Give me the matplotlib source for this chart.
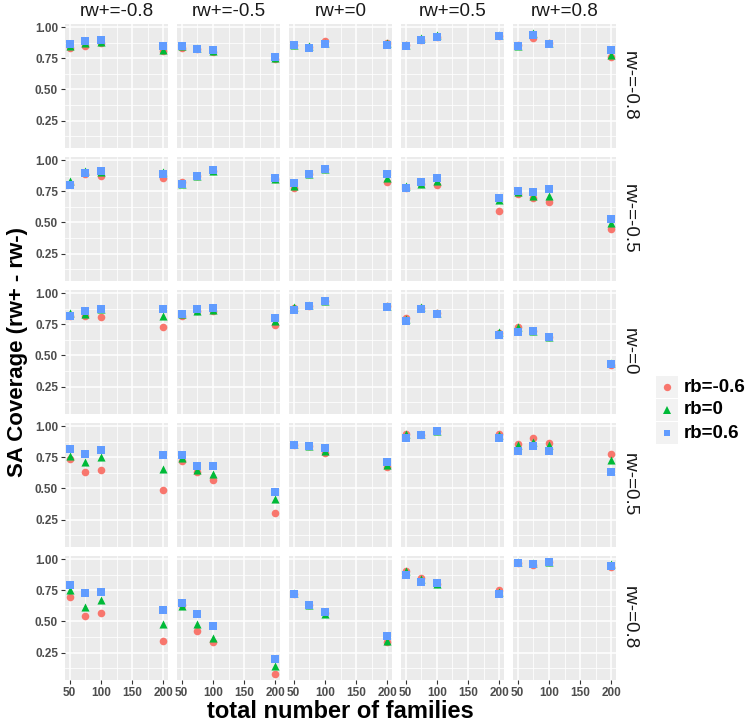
import matplotlib
matplotlib.use("Agg")
import matplotlib.pyplot as plt
from matplotlib.patches import Rectangle
from matplotlib.lines import Line2D

plt.rcParams['font.family'] = ['Liberation Sans', 'DejaVu Sans']

# ---------------- data ----------------
families = [50, 75, 100, 200]
rw_plus_labels = ["rw+=-0.8", "rw+=-0.5", "rw+=0", "rw+=0.5", "rw+=0.8"]
rw_minus_labels = ["rw-=-0.8", "rw-=-0.5", "rw-=0", "rw-=0.5", "rw-=0.8"]
rb_labels = ["rb=-0.6", "rb=0", "rb=0.6"]

# coverage[row = rw-][col = rw+][families]
cov_rb_neg06 = [
    [[0.83, 0.845, 0.87, 0.81], [0.835, 0.825, 0.80, 0.745], [0.855, 0.84, 0.89, 0.87],
     [0.855, 0.90, 0.92, 0.93], [0.86, 0.915, 0.87, 0.76]],
    [[0.81, 0.89, 0.875, 0.86], [0.825, 0.875, 0.91, 0.85], [0.775, 0.885, 0.925, 0.825],
     [0.775, 0.81, 0.80, 0.59], [0.73, 0.695, 0.665, 0.45]],
    [[0.82, 0.82, 0.81, 0.73], [0.82, 0.86, 0.86, 0.745], [0.88, 0.90, 0.94, 0.90],
     [0.80, 0.88, 0.84, 0.68], [0.73, 0.70, 0.65, 0.42]],
    [[0.74, 0.635, 0.645, 0.49], [0.72, 0.635, 0.565, 0.30], [0.85, 0.84, 0.785, 0.67],
     [0.935, 0.93, 0.965, 0.935], [0.86, 0.905, 0.865, 0.775]],
    [[0.70, 0.545, 0.565, 0.345], [0.63, 0.42, 0.335, 0.075], [0.72, 0.63, 0.565, 0.335],
     [0.905, 0.85, 0.80, 0.75], [0.97, 0.955, 0.98, 0.94]],
]
cov_rb_0 = [
    [[0.85, 0.87, 0.88, 0.82], [0.845, 0.83, 0.805, 0.755], [0.855, 0.85, 0.875, 0.87],
     [0.855, 0.91, 0.935, 0.935], [0.845, 0.95, 0.87, 0.78]],
    [[0.83, 0.91, 0.905, 0.905], [0.81, 0.875, 0.91, 0.85], [0.79, 0.885, 0.93, 0.86],
     [0.79, 0.81, 0.83, 0.68], [0.745, 0.71, 0.715, 0.495]],
    [[0.84, 0.83, 0.87, 0.82], [0.83, 0.86, 0.865, 0.78], [0.885, 0.905, 0.94, 0.895],
     [0.79, 0.89, 0.84, 0.685], [0.73, 0.70, 0.65, 0.44]],
    [[0.76, 0.715, 0.75, 0.655], [0.745, 0.645, 0.615, 0.415], [0.855, 0.84, 0.80, 0.685],
     [0.94, 0.94, 0.965, 0.925], [0.845, 0.875, 0.85, 0.725]],
    [[0.755, 0.615, 0.675, 0.48], [0.625, 0.48, 0.37, 0.145], [0.725, 0.63, 0.56, 0.345],
     [0.905, 0.84, 0.80, 0.74], [0.975, 0.97, 0.98, 0.96]],
]
cov_rb_06 = [
    [[0.865, 0.89, 0.90, 0.85], [0.85, 0.825, 0.82, 0.76], [0.855, 0.835, 0.865, 0.86],
     [0.85, 0.90, 0.92, 0.93], [0.845, 0.94, 0.865, 0.82]],
    [[0.80, 0.90, 0.915, 0.89], [0.805, 0.875, 0.92, 0.855], [0.82, 0.885, 0.925, 0.885],
     [0.775, 0.825, 0.86, 0.695], [0.75, 0.745, 0.765, 0.53]],
    [[0.82, 0.86, 0.87, 0.87], [0.83, 0.875, 0.88, 0.80], [0.865, 0.90, 0.94, 0.885],
     [0.78, 0.875, 0.835, 0.66], [0.69, 0.70, 0.65, 0.43]],
    [[0.815, 0.78, 0.805, 0.77], [0.77, 0.68, 0.68, 0.47], [0.845, 0.84, 0.825, 0.715],
     [0.905, 0.925, 0.965, 0.905], [0.80, 0.84, 0.80, 0.635]],
    [[0.79, 0.725, 0.735, 0.59], [0.645, 0.56, 0.46, 0.20], [0.72, 0.63, 0.575, 0.385],
     [0.87, 0.815, 0.805, 0.72], [0.97, 0.965, 0.98, 0.945]],
]

series = [cov_rb_neg06, cov_rb_0, cov_rb_06]
colors = ["#F8766D", "#00BA38", "#619CFF"]
markers = ["o", "^", "s"]
sizes = [30, 34, 26]

# ---------------- layout ----------------
W, H = 750, 725
fig = plt.figure(figsize=(W / 100, H / 100), dpi=100)

left0, pw, gapx = 65, 103, 9
top0, ph, gapy = 24, 124, 9

allv = [v for s in series for r in s for c in r for v in c]
ymin, ymax = min(allv), max(allv)
ypad = (ymax - ymin) * 0.05
xmin, xmax = min(families), max(families)
xpad = (xmax - xmin) * 0.05

for i in range(5):
    for j in range(5):
        lx = left0 + j * (pw + gapx)
        ty = top0 + i * (ph + gapy)
        ax = fig.add_axes([lx / W, 1 - (ty + ph) / H, pw / W, ph / H])
        ax.set_facecolor("#EBEBEB")
        for sp in ax.spines.values():
            sp.set_visible(False)
        ax.set_xlim(xmin - xpad, xmax + xpad)
        ax.set_ylim(ymin - ypad, ymax + ypad)
        ax.set_xticks([50, 100, 150, 200])
        ax.set_xticks([75, 125, 175], minor=True)
        ax.set_yticks([0.25, 0.5, 0.75, 1.0])
        ax.set_yticks([0.125, 0.375, 0.625, 0.875], minor=True)
        ax.grid(which="major", color="white", linewidth=1.1)
        ax.grid(which="minor", color="white", linewidth=0.55)
        ax.set_axisbelow(True)
        ax.tick_params(which="minor", length=0)
        ax.tick_params(which="major", length=3, color="#333333", width=0.8,
                       labelsize=8.5, labelcolor="#4D4D4D", pad=2)
        if j == 0:
            ax.set_yticklabels(["0.25", "0.50", "0.75", "1.00"], fontweight="bold")
        else:
            ax.tick_params(axis="y", left=False, labelleft=False)
        if i == 4:
            ax.set_xticklabels(["50", "100", "150", "200"], fontweight="bold")
        else:
            ax.tick_params(axis="x", bottom=False, labelbottom=False)
        for k in range(3):
            ax.scatter(families, series[k][i][j], c=colors[k], marker=markers[k],
                       s=sizes[k], linewidths=0, zorder=3 + k)
        if i == 0:
            ax.text(0.5, 1 + 12 / ph, rw_plus_labels[j], transform=ax.transAxes,
                    ha="center", va="center", fontsize=13.5, color="#1A1A1A")
        if j == 4:
            ax.text(1 + 13 / pw, 0.5, rw_minus_labels[i], transform=ax.transAxes,
                    ha="center", va="center", fontsize=13.5, color="#1A1A1A",
                    rotation=-90)

# axis titles
panels_left = left0
panels_right = left0 + 5 * pw + 4 * gapx
panels_top = top0
panels_bottom = top0 + 5 * ph + 4 * gapy
fig.text((panels_left + panels_right) / 2 / W, 1 - 712 / H, "total number of families",
         ha="center", va="center", fontsize=17, fontweight="bold")
fig.text(18 / W, 1 - (panels_top + panels_bottom) / 2 / H, "SA Coverage (rw+ - rw-)",
         ha="center", va="center", fontsize=16, fontweight="bold", rotation=90)

# legend (ggplot-style keys with grey background)
leg_x, key = 656, 22
leg_y0 = 376
for k in range(3):
    ky = leg_y0 + k * (key + 1)
    fig.add_artist(Rectangle((leg_x / W, 1 - (ky + key) / H), key / W, key / H,
                             transform=fig.transFigure, facecolor="#F2F2F2",
                             edgecolor="none"))
    fig.add_artist(Line2D([(leg_x + key / 2) / W], [1 - (ky + key / 2) / H],
                          transform=fig.transFigure, marker=markers[k],
                          color=colors[k], markersize=[5.3, 5.8, 5.0][k],
                          markeredgewidth=0, linestyle="none"))
    fig.text((leg_x + key + 6) / W, 1 - (ky + key / 2) / H, rb_labels[k],
             ha="left", va="center", fontsize=13.5, fontweight="bold")

fig.savefig("out.png", dpi=100)
